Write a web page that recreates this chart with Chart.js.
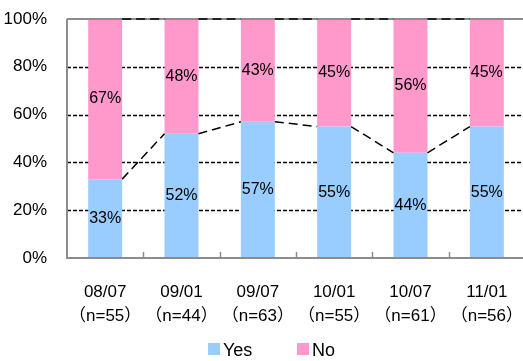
<!DOCTYPE html>
<html lang="ja">
<head>
<meta charset="UTF-8">
<title>Yes / No</title>
<script src="https://cdn.jsdelivr.net/npm/chart.js"></script>
<style>
  html, body { margin: 0; padding: 0; background: #fff; overflow: hidden; }
  #grafico { display: block; }
</style>
</head>
<body>
<canvas id="grafico" width="525" height="361"></canvas>
<script>
    // dados
    const datas = ['08/07', '09/01', '09/07', '10/01', '10/07', '11/01'];
    const amostras = ['（n=55）', '（n=44）', '（n=63）', '（n=55）', '（n=61）', '（n=56）'];
    const valoresYes = [33, 52, 57, 55, 44, 55];
    const valoresNo = [67, 48, 43, 45, 56, 45];
    const ticksY = [0, 20, 40, 60, 80, 100];

    const fonte = '"Liberation Sans", "Noto Sans CJK JP", sans-serif';
    const cinza = '#8c8c8c';

    let labels = [];
    for (let i = 0; i < datas.length; i++) {
        labels.push([datas[i], amostras[i]]);
    }

    const extras = {
        id: 'extras',
        beforeDatasetsDraw(chart) {
            const ctx = chart.ctx;
            const area = chart.chartArea;
            const y = chart.scales.y;
            ctx.save();
            // grade tracejada
            ctx.strokeStyle = '#000';
            ctx.lineWidth = 1.3;
            ctx.setLineDash([4, 2]);
            for (const t of ticksY) {
                if (t === 0 || t === 100) continue;
                const py = Math.round(y.getPixelForValue(t)) + 0.5;
                ctx.beginPath();
                ctx.moveTo(area.left, py);
                ctx.lineTo(area.right, py);
                ctx.stroke();
            }
            ctx.restore();
        },
        afterDatasetsDraw(chart) {
            const ctx = chart.ctx;
            const area = chart.chartArea;
            const x = chart.scales.x;
            ctx.save();

            // eixos cinza
            ctx.strokeStyle = cinza;
            ctx.lineWidth = 2;
            ctx.beginPath();
            ctx.moveTo(area.left, area.top);
            ctx.lineTo(area.right, area.top);
            ctx.moveTo(area.left, area.top);
            ctx.lineTo(area.left, area.bottom);
            ctx.lineTo(area.right, area.bottom);
            ctx.stroke();

            // marcas entre categorias
            ctx.lineWidth = 1.5;
            for (let i = 0; i < labels.length - 1; i++) {
                const px = Math.round((x.getPixelForValue(i) + x.getPixelForValue(i + 1)) / 2) + 0.5;
                ctx.beginPath();
                ctx.moveTo(px, area.bottom);
                ctx.lineTo(px, area.bottom - 6);
                ctx.stroke();
            }

            // linhas de série
            ctx.strokeStyle = '#000';
            ctx.lineWidth = 1.5;
            ctx.setLineDash([9, 5]);
            for (let d = 0; d < chart.data.datasets.length; d++) {
                const barras = chart.getDatasetMeta(d).data;
                for (let i = 0; i < barras.length - 1; i++) {
                    const a = barras[i];
                    const b = barras[i + 1];
                    ctx.beginPath();
                    ctx.moveTo(a.x + a.width / 2, a.y);
                    ctx.lineTo(b.x - b.width / 2, b.y);
                    ctx.stroke();
                }
            }
            ctx.setLineDash([]);

            // rótulos dentro das barras
            ctx.fillStyle = '#000';
            ctx.font = '16px ' + fonte;
            ctx.textAlign = 'center';
            ctx.textBaseline = 'middle';
            chart.data.datasets.forEach(function (ds, d) {
                chart.getDatasetMeta(d).data.forEach(function (barra, i) {
                    ctx.fillText(ds.data[i] + '%', barra.x, (barra.y + barra.base) / 2);
                });
            });

            // legenda
            const posX = [208, 297];
            const posY = 351;
            ctx.textAlign = 'left';
            ctx.font = '18px ' + fonte;
            chart.data.datasets.forEach(function (ds, d) {
                ctx.fillStyle = ds.backgroundColor;
                ctx.fillRect(posX[d], posY - 8, 12, 12);
                ctx.fillStyle = '#000';
                ctx.fillText(ds.label, posX[d] + 15, posY);
            });
            ctx.restore();
        }
    };

    const dados = {
        labels: labels,
        datasets: [{
            label: 'Yes',
            data: valoresYes,
            backgroundColor: '#99ccff',
            borderWidth: 0,
            barPercentage: 0.445,
            categoryPercentage: 1
        }, {
            label: 'No',
            data: valoresNo,
            backgroundColor: '#ff99cc',
            borderWidth: 0,
            barPercentage: 0.445,
            categoryPercentage: 1
        }]
    };

    const config = {
        type: 'bar',
        data: dados,
        options: {
            responsive: false,
            animation: false,
            layout: { padding: { top: 19, left: 0, right: 0, bottom: 33 } },
            plugins: {
                legend: { display: false },
                tooltip: { enabled: false }
            },
            scales: {
                x: {
                    stacked: true,
                    grid: { display: false, drawTicks: false },
                    border: { display: false },
                    ticks: {
                        color: '#000',
                        padding: 22,
                        maxRotation: 0,
                        autoSkip: false,
                        font: { family: fonte, size: 17, lineHeight: 1.41 }
                    },
                    afterFit(scale) {
                        scale.height = 70;
                        scale.paddingLeft = 0;
                        scale.paddingRight = 0;
                    }
                },
                y: {
                    stacked: true,
                    min: 0,
                    max: 100,
                    grid: { display: false, drawTicks: false },
                    border: { display: false },
                    afterBuildTicks(scale) {
                        scale.ticks = ticksY.map(v => ({ value: v }));
                    },
                    ticks: {
                        color: '#000',
                        padding: 20,
                        font: { family: fonte, size: 17 },
                        callback: v => v + '%'
                    },
                    afterFit(scale) {
                        scale.width = 67;
                        scale.paddingTop = 0;
                        scale.paddingBottom = 0;
                    }
                }
            }
        },
        plugins: [extras]
    };

    const myChart = new Chart(document.querySelector('#grafico'), config);
</script>
</body>
</html>
